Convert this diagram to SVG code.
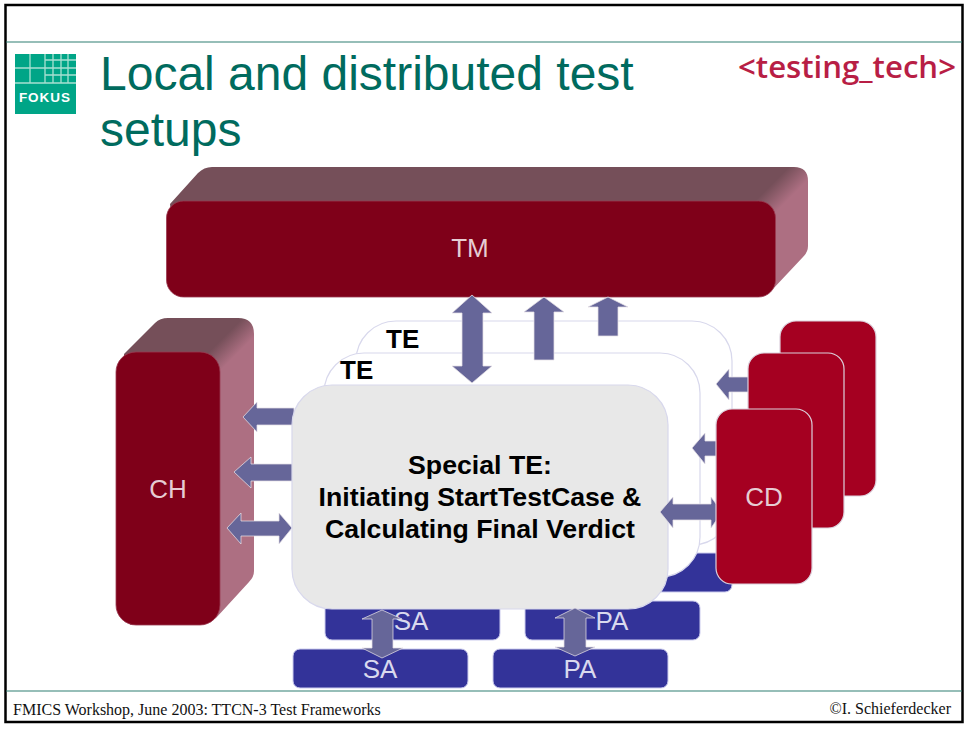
<svg xmlns="http://www.w3.org/2000/svg" width="965" height="729" viewBox="0 0 965 729">
<style>
text{font-family:"Liberation Sans",Arial,sans-serif}
.lbl{font-size:26px;text-anchor:middle}
.pink{fill:#e6ccd3}
.lav{fill:#d9d9ee}
.red{fill:#a50021;stroke:#dcd0dc;stroke-width:1.2}
.dark{fill:#7f0019;stroke:#9a3a50;stroke-width:.8}
.blue{fill:#333399;stroke:#ccccee;stroke-width:1}
.te{fill:#fff;stroke:#d8d8ec;stroke-width:1.2}
.arr{fill:#666699;stroke:#e4dfe6;stroke-width:1;stroke-opacity:.75}
.b{font-size:26px;font-weight:bold;fill:#000}
.s{font-size:26.7px;font-weight:bold;fill:#000;text-anchor:middle}
.foot{font-family:"Liberation Serif","Times New Roman",serif;font-size:16px;fill:#111}
.g{stroke:#a8e0d2;fill:none}
</style>
<defs>
<linearGradient id="tmg" gradientUnits="userSpaceOnUse" x1="778" y1="178" x2="794" y2="194"><stop offset="0" stop-color="#754f59"/><stop offset="1" stop-color="#ad6f82"/></linearGradient>
<linearGradient id="chg" gradientUnits="userSpaceOnUse" x1="231" y1="330" x2="246" y2="345"><stop offset="0" stop-color="#754f59"/><stop offset="1" stop-color="#ad6f82"/></linearGradient>
</defs>
<rect width="965" height="729" fill="#fff"/>
<g id="frame">
<rect x="5.500" y="5" width="957" height="717" fill="none" stroke="#000" stroke-width="2.500"/>
<line x1="6" y1="42" x2="962" y2="42" stroke="#2f7f72" stroke-width="1.200"/>
<line x1="6" y1="691" x2="962" y2="691" stroke="#2f7f72" stroke-width="1.200"/>
</g>
<g id="logo-fokus">
<rect x="15" y="54" width="61" height="60" fill="#00a587"/>
<path class="g" d="M30 54V83M45 54V83M53 54V83M61 54V83M68 54V83M15 68H76M15 83H76M45 60H76M45 75H76" stroke-width="1.300"/>
<text x="45" y="102" text-anchor="middle" font-size="13.500" font-weight="bold" letter-spacing="1" fill="#fff">FOKUS</text>
</g>
<g id="title">
<text x="100" y="90" font-size="48" fill="#006b5e">Local and distributed test</text>
<text x="100" y="146" font-size="48" fill="#006b5e">setups</text>
</g>
<text id="logo-testing-tech" x="738" y="78" style="font-family:'Open Sans','Noto Sans',sans-serif" font-size="31" font-weight="600" fill="#b81e45" textLength="218" lengthAdjust="spacingAndGlyphs">&lt;testing_tech&gt;</text>
<g id="node-TE-back"><rect class="te" x="356" y="321" width="376" height="224" rx="40"/><text class="b" x="386" y="348">TE</text></g>
<g id="node-PA-back"><rect class="blue" x="557" y="553" width="175" height="39" rx="7"/></g>
<g id="node-TE-mid"><rect class="te" x="324" y="353" width="376" height="224" rx="40"/><text class="b" x="340" y="379">TE</text></g>
<g id="node-SA2"><rect class="blue" x="325" y="601" width="175" height="39" rx="7"/><text class="lbl lav" x="411" y="630">SA</text></g>
<g id="node-PA2"><rect class="blue" x="525" y="601" width="175" height="39" rx="7"/><text class="lbl lav" x="612" y="630">PA</text></g>
<g id="node-SA1"><rect class="blue" x="293" y="649" width="175" height="39" rx="7"/><text class="lbl lav" x="380" y="678">SA</text></g>
<g id="node-PA1"><rect class="blue" x="493" y="649" width="175" height="39" rx="7"/><text class="lbl lav" x="580" y="678">PA</text></g>
<g id="node-TM">
<path fill="url(#tmg)" d="M170 204L198 173Q204 167 212 167H794Q808 167 808 181V246Q808 252 803 257L772 290L700 297H180Z"/>
<rect class="dark" x="166.500" y="201" width="609" height="96" rx="17"/>
<text class="lbl pink" x="470" y="257">TM</text>
</g>
<g id="node-CH">
<path fill="url(#chg)" d="M124 354L155 323Q160 318 168 318H238Q254 318 254 334V571Q254 577 249 582L216 618L200 625H130Z"/>
<rect class="dark" x="116" y="352" width="104" height="273" rx="20"/>
<text class="lbl pink" x="168" y="498">CH</text>
</g>
<g id="connectors">
<path class="arr" d="M472 295L492 313H483V366H492L472 383L452 366H462V313H452Z"/>
<path class="arr" d="M544 297L564 312H554V360H534V312H524Z"/>
<path class="arr" d="M608 297L628 307H618V336H598V307H588Z"/>
<path class="arr" d="M243 417L257 402V408H294V425H257V432Z"/>
<path class="arr" d="M234 472L251 457V464H294V481H251V488Z"/>
<path class="arr" d="M227 528L241 513V521H279V513L292 528L279 544V536H241V544Z"/>
<path class="arr" d="M716 384L729 369V377H750V392H729V400Z"/>
<path class="arr" d="M692 448L705 433V441H718V456H705V464Z"/>
</g>
<g id="node-special-TE">
<rect x="292" y="385" width="376" height="224" rx="40" fill="#e8e8e8" stroke="#d8d8ec" stroke-width="1.200"/>
<text class="s" x="480" y="474">Special TE:</text>
<text class="s" x="480" y="506">Initiating StartTestCase &amp;</text>
<text class="s" x="480" y="538">Calculating Final Verdict</text>
</g>
<g id="connectors-front">
<path class="arr" d="M660 512L673 497V504H711V497L722 512L711 528V520H673V528Z"/>
<path class="arr" d="M382 610L402 619H393V648H403L382 658L362 648H372V619H362Z"/>
<path class="arr" d="M575 608L595 618H586V647H595L575 656L555 647H564V618H555Z"/>
</g>
<g id="node-CD3"><rect class="red" x="780" y="321" width="96" height="175" rx="16"/></g>
<g id="node-CD2"><rect class="red" x="748" y="353" width="96" height="175" rx="16"/></g>
<g id="node-CD1"><rect class="red" x="716" y="409" width="96" height="175" rx="16"/><text class="lbl pink" x="764" y="506">CD</text></g>
<g id="footer">
<text class="foot" x="13" y="715">FMICS Workshop, June 2003: TTCN-3 Test Frameworks</text>
<text class="foot" x="951" y="714" text-anchor="end">©I. Schieferdecker</text>
</g>
</svg>
